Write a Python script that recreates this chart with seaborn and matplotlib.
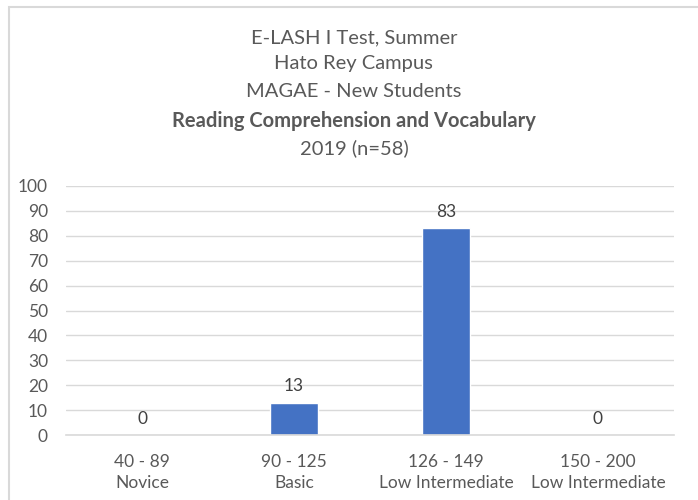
import matplotlib
matplotlib.use("Agg")
import matplotlib.pyplot as plt
import seaborn as sns
import pandas as pd
from matplotlib.patches import Rectangle

# data
categories = ["40 - 89\nNovice", "90 - 125\nBasic",
              "126 - 149\nLow Intermediate", "150 - 200\nLow Intermediate"]
percents = [0, 13, 83, 0]
title_lines = ["E-LASH I Test, Summer", "Hato Rey Campus", "MAGAE - New Students",
               "Reading Comprehension and Vocabulary", "2019 (n=58)"]
y_ticks = list(range(0, 101, 10))

TEXT = "#595959"
BAR = "#4472C4"
GRID = "#D9D9D9"

sns.set_style("white")
plt.rcParams["font.family"] = ["Lato", "DejaVu Sans"]

df = pd.DataFrame({"level": categories, "pct": percents})

fig = plt.figure(figsize=(6.98, 5.0), dpi=100)
ax = fig.add_axes([0.0946, 0.13, 0.871, 0.498])

sns.barplot(data=df, x="level", y="pct", color=BAR, width=0.31,
            saturation=1, ax=ax)

ax.set_ylim(0, 100)
ax.set_yticks(y_ticks)
ax.set_xlim(-0.5, len(categories) - 0.5)
ax.yaxis.grid(True, color=GRID, linewidth=1)
ax.set_axisbelow(True)
for side in ["left", "right", "top"]:
    ax.spines[side].set_visible(False)
ax.spines["bottom"].set_color(GRID)
ax.spines["bottom"].set_linewidth(1.2)
ax.tick_params(axis="both", length=0, colors=TEXT, labelsize=12.5)
ax.tick_params(axis="y", pad=13)
ax.tick_params(axis="x", pad=14)
for lbl in ax.get_xticklabels():
    lbl.set_linespacing(1.35)
ax.set_xlabel("")
ax.set_ylabel("")

# value labels above bars
for i, v in enumerate(percents):
    ax.annotate(f"{v}", (i, v), xytext=(0, 6), textcoords="offset points",
                ha="center", va="bottom", fontsize=12.5, color="#404040")

# stacked title lines, one is bold
ys = [38, 63, 92, 121, 148]
for line, y in zip(title_lines, ys):
    weight = "bold" if line.startswith("Reading") else "normal"
    fig.text(0.507, 1 - y / 500, line, ha="center", va="center",
             fontsize=14.5, color=TEXT, fontweight=weight)

# chart area frame (only left and top edges show in the crop)
fig.patches.append(Rectangle((8.5 / 698, -0.1), 1.2, 1.1 - 7 / 500,
                             transform=fig.transFigure, fill=False,
                             edgecolor="#D9D9D9", linewidth=1.5))

fig.savefig("out.png", dpi=100)
